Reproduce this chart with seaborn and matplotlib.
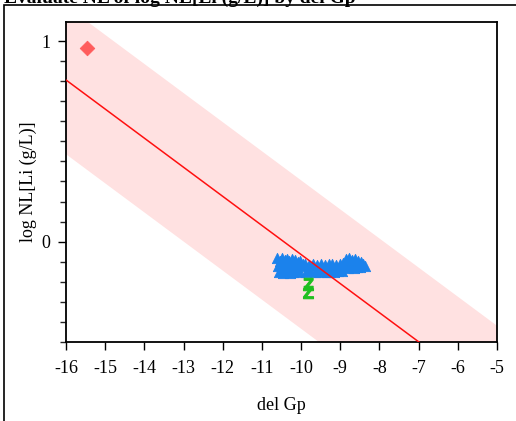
import matplotlib
matplotlib.use('Agg')
import matplotlib.pyplot as plt
import matplotlib.patches as mpatches
import seaborn as sns

sns.set_theme(style='white')
plt.rcParams['font.family'] = ['Liberation Serif', 'DejaVu Serif']
plt.rcParams['mathtext.fontset'] = 'custom'
plt.rcParams['mathtext.rm'] = 'Liberation Sans'
plt.rcParams['mathtext.bf'] = 'Liberation Sans:bold'

# fitted line and prediction band
fit_x = [-16, -5]
fit_y = [0.806, -0.789]
band_lo = [0.436, -1.159]
band_hi = [1.176, -0.419]

# outlier
red_x = [-15.46]
red_y = [0.965]

# main cluster (triangles)
blue_x = [-10.62, -10.55, -10.48, -10.42, -10.35, -10.30, -10.22, -10.15, -10.08, -10.02,
          -10.60, -10.50, -10.40, -10.33, -10.25, -10.18, -10.10, -10.03, -9.95,
          -10.57, -10.45, -10.36, -10.28, -10.20, -10.12, -10.05,
          -9.90, -9.80, -9.70, -9.60, -9.50, -9.40, -9.30, -9.20, -9.10, -9.00, -8.92,
          -9.88, -9.78, -9.65, -9.55, -9.45, -9.35, -9.25, -9.15, -9.05, -8.95,
          -8.85, -8.78, -8.70, -8.62, -8.55, -8.48, -8.42, -8.38,
          -8.88, -8.80, -8.72, -8.65, -8.58, -8.50]
blue_y = [-0.082, -0.095, -0.080, -0.090, -0.088, -0.095, -0.085, -0.092, -0.100, -0.098,
          -0.120, -0.125, -0.118, -0.128, -0.122, -0.118, -0.125, -0.120, -0.110,
          -0.152, -0.155, -0.148, -0.155, -0.150, -0.148, -0.152,
          -0.112, -0.115, -0.110, -0.118, -0.112, -0.116, -0.110, -0.113, -0.118, -0.112, -0.108,
          -0.150, -0.148, -0.152, -0.150, -0.147, -0.151, -0.149, -0.150, -0.146, -0.145,
          -0.088, -0.082, -0.090, -0.085, -0.095, -0.100, -0.110, -0.120,
          -0.125, -0.130, -0.128, -0.132, -0.126, -0.125]

# green Z points
green_x = [-9.82, -9.82]
green_y = [-0.21, -0.25]

x_ticks = list(range(-16, -4))
x_ticklabels = [str(v) for v in x_ticks]

fig = plt.figure(figsize=(5.16, 4.21), dpi=100)
ax = fig.add_axes([66 / 516, 1 - 342 / 421, (497 - 66) / 516, (342 - 22) / 421])

ax.fill_between(fit_x, band_lo, band_hi, color='#ffe1e1', lw=0, zorder=1)
sns.lineplot(x=fit_x, y=fit_y, color='#ff1010', lw=1.1, ax=ax, zorder=3)

sns.scatterplot(x=blue_x, y=blue_y, marker='^', s=55, color='#1b82ec',
                edgecolor='#1b82ec', linewidth=0.6, ax=ax, zorder=2)
sns.scatterplot(x=red_x, y=red_y, marker='D', s=55, color='#ff5c5c',
                edgecolor='#ff5c5c', ax=ax, zorder=4)
sns.scatterplot(x=green_x, y=green_y, marker=r'$\mathbf{Z}$', s=80, color='#1fbf1f',
                edgecolor='#1fbf1f', linewidth=0.8, ax=ax, zorder=4)

ax.set_xlim(-16, -5)
ax.set_ylim(-0.5, 1.095)
ax.set_xticks(x_ticks)
ax.set_xticklabels(x_ticklabels)
ax.set_yticks([0, 1])
ax.set_yticklabels(['0', '1'])
ax.set_yticks([i / 10 for i in range(-5, 11)], minor=True)
ax.tick_params(axis='both', which='major', direction='out', length=6, width=1,
               labelsize=13, color='black', labelcolor='black')
ax.tick_params(axis='x', which='major', pad=7)
ax.tick_params(axis='y', which='major', pad=5)
ax.tick_params(axis='y', which='minor', direction='out', length=4, width=1, left=True)
ax.tick_params(bottom=True, left=True)
for side in ['left', 'bottom', 'top', 'right']:
    ax.spines[side].set_color('black')
    ax.spines[side].set_linewidth(1.3)

ax.set_xlabel('del Gp', fontsize=13, labelpad=14, color='black')
ax.set_ylabel('log NL[Li (g/L)]', fontsize=13, labelpad=3, color='black')

# outer frame and clipped title
fig.patches.append(mpatches.Rectangle((4 / 516, -0.1), 1.2, 1 - 5 / 421 + 0.1,
                                      transform=fig.transFigure, fill=False,
                                      edgecolor='black', lw=1.2))
fig.text(4 / 516, 1 - 3 / 421, 'Evaluate NL of log NL[Li (g/L)] by del Gp',
         fontsize=14, fontweight='bold', va='baseline', ha='left', color='black')

fig.savefig('out.png', dpi=100)
